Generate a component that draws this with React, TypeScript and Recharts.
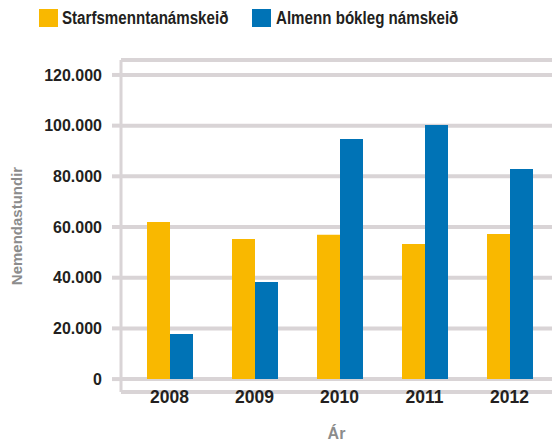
import React from "react";
import { Bar, BarChart, CartesianGrid, XAxis, YAxis } from "recharts";

const years = ["2008", "2009", "2010", "2011", "2012"];
const starfsmennt = [62000, 55300, 56900, 53300, 57200];
const almenn = [17800, 38300, 94700, 100300, 82900];
const yTicks = [0, 20000, 40000, 60000, 80000, 100000, 120000];

const ORANGE = "#F9B800";
const BLUE = "#0073B6";
const GRID = "#D9D4D6";
const FONT = "'Liberation Sans', Arial, sans-serif";

const data = years.map((year, i) => ({
  year,
  starfsmennt: starfsmennt[i],
  almenn: almenn[i],
}));

// tölur með punkti sem þúsundaskil
const formatNumber = (v: number) => v.toLocaleString("de-DE");

const XTick = (props: any) => {
  const { x, y, payload } = props;
  return (
    <text x={x} y={y + 11} textAnchor="middle" fill="#231F20" fontSize={17.5} fontWeight="bold" fontFamily={FONT}>
      {payload.value}
    </text>
  );
};

const legendItems = [
  { label: "Starfsmenntanámskeið", color: ORANGE, gap: 4 },
  { label: "Almenn bókleg námskeið", color: BLUE, gap: 5 },
];

const Legend = () => (
  <div style={{ position: "absolute", top: 0, left: 0, fontFamily: FONT, whiteSpace: "nowrap" }}>
    {legendItems.map((item, i) => (
      <div
        key={item.label}
        style={{ position: "absolute", top: 9, left: i === 0 ? 39 : 252, display: "flex", alignItems: "center" }}
      >
        <span style={{ width: 19, height: 18, background: item.color, display: "inline-block" }} />
        <span
          style={{
            marginLeft: item.gap,
            fontSize: 18,
            fontWeight: "bold",
            color: "#231F20",
            lineHeight: "18px",
            display: "inline-block",
            transform: "scaleX(0.84)",
            transformOrigin: "left center",
          }}
        >
          {item.label}
        </span>
      </div>
    ))}
  </div>
);

export default function App() {
  return (
    <div style={{ position: "absolute", top: 0, left: 0, width: 552, height: 445, background: "#fff" }}>
      <Legend />
      <BarChart
        width={552}
        height={445}
        data={data}
        barGap={0}
        barSize={23}
        margin={{ top: 60, right: 0, left: 0, bottom: 23 }}
      >
        <CartesianGrid vertical={false} stroke={GRID} strokeWidth={4} />
        <XAxis
          dataKey="year"
          axisLine={false}
          tickLine={false}
          tickSize={0}
          tickMargin={0}
          height={30}
          padding={{ left: 6, right: 0 }}
          tick={<XTick />}
          label={{
            value: "Ár",
            position: "bottom",
            offset: 6,
            fill: "#8C8C8C",
            fontSize: 16,
            fontWeight: "bold",
            fontFamily: FONT,
          }}
        />
        <YAxis
          width={121}
          domain={[-5100, 125900]}
          ticks={yTicks}
          interval={0}
          tickFormatter={formatNumber}
          axisLine={{ stroke: GRID, strokeWidth: 3 }}
          tickLine={{ stroke: GRID, strokeWidth: 4 }}
          tickSize={9}
          tickMargin={10}
          tick={{ fill: "#231F20", fontSize: 16, fontWeight: "bold", fontFamily: FONT }}
          label={{
            value: "Nemendastundir",
            angle: -90,
            position: "insideLeft",
            offset: 17,
            fill: "#8C8C8C",
            fontSize: 15,
            fontWeight: "bold",
            fontFamily: FONT,
            style: { textAnchor: "middle" },
          }}
        />
        <Bar dataKey="starfsmennt" name="Starfsmenntanámskeið" fill={ORANGE} isAnimationActive={false} />
        <Bar dataKey="almenn" name="Almenn bókleg námskeið" fill={BLUE} isAnimationActive={false} />
      </BarChart>
    </div>
  );
}
